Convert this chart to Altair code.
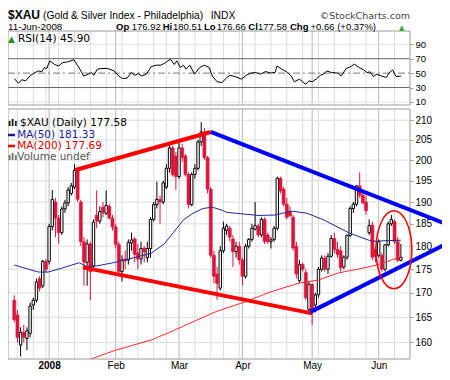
import altair as alt
import pandas as pd

# ---------------- data ----------------
first_idx = -11  # trading-day index, 0 = 2-Jan-2008
opens = [
    168.5, 165.5, 159.5, 162, 160.8, 161.8, 167.5, 168.5, 173, 171.5,
    176.7, 176.7, 184.4, 190, 186.3, 183, 188.4, 189.8, 192, 193.5,
    197.5, 190, 181, 176.5, 180.5, 175.7, 187, 185.6, 188.8, 187.4,
    189, 186.3, 184.3, 180.4, 174.5, 177.2, 177, 180.7, 181.6, 178.5,
    177.2, 179.6, 177.5, 179.5, 186, 189.4, 190.6, 190, 193.5, 198,
    203, 201, 196, 203, 201, 196.5, 189.4, 196.5, 198, 204.5,
    207, 200.6, 193, 178, 174, 171, 179, 183.5, 184, 181.6,
    178.8, 180, 177, 173.5, 180, 181.5, 183.8, 184.5, 182.5, 186,
    182.5, 181, 181.5, 184, 195.6, 193, 189.5, 187.8, 186.5, 180,
    172.6, 176, 174.3, 166.6, 171.8, 167.5, 169.6, 175, 177.4, 175,
    177.8, 181.7, 179.3, 179, 175.5, 177.6, 182.4, 188.5, 189.5, 193.8,
    191.6, 190, 183, 184.7, 179.3, 178, 178, 175, 180.3, 185,
    185.5, 181, 176.92]
highs = [
    169.5, 166.5, 163, 163.5, 163, 168, 169, 173, 173.5, 177,
    177.2, 185, 192.8, 191, 187, 189, 190.5, 193.5, 194.5, 199,
    198, 190.5, 182, 181.5, 181, 186, 192.7, 189, 190, 192.7,
    189.5, 187, 185, 181, 178, 179, 181.5, 183, 182, 180.5,
    181, 180, 181, 186.5, 190, 194.8, 191.5, 195, 199, 204,
    203.5, 202, 205, 204, 201.5, 197, 197, 199, 205, 209.5,
    208, 201, 193.5, 179, 175.5, 180, 185.5, 185, 184.5, 182.5,
    181, 181, 177.5, 180.5, 181.8, 185, 190, 185, 186.5, 186.5,
    183, 182, 184.5, 196, 196, 193.5, 191, 189, 187, 181,
    177, 176.5, 175, 172.5, 172, 170, 175.5, 178, 178, 178.5,
    182.5, 183, 181, 180, 178, 182.6, 189, 190, 194, 197,
    192.5, 191.5, 186, 185.5, 180, 181.5, 178.5, 180.5, 185.5, 187,
    186, 182, 180.51]
lows = [
    164, 160, 157.3, 160, 158.5, 161, 166.5, 168, 170.3, 171,
    174.3, 176, 183.5, 182, 180.5, 182.5, 187.5, 189, 191.5, 193,
    190, 180, 171.5, 171.5, 168.5, 175, 184, 185, 186.5, 187,
    186, 183.5, 179.5, 173.5, 172.4, 175, 176, 179, 176.5, 175,
    176, 176.5, 176.5, 177.5, 185.5, 188.5, 185, 189.5, 193, 197,
    196, 192.8, 195.5, 199.5, 196, 188.5, 189, 195.5, 197.5, 203.5,
    200, 192, 177.5, 172, 168.6, 170.5, 178.5, 182.5, 181, 175.5,
    177.5, 176, 171.6, 173, 179.5, 181, 183.5, 182, 182, 180.5,
    180.5, 179.5, 181, 183.5, 192, 189, 186, 186.5, 179, 173,
    172, 174.5, 168.5, 166, 163.5, 166, 169, 174.5, 174.5, 174,
    177.5, 178.5, 177.5, 174.5, 175, 177, 182, 187.5, 189, 191,
    189.5, 187, 182.5, 177, 176.5, 177.5, 174.5, 174.5, 180, 184.5,
    180.5, 176.5, 176.66]
closes = [
    164.5, 161, 162, 161, 162.3, 167.3, 168.5, 172.3, 171, 176.7,
    175, 184.4, 190.6, 186.3, 183, 188.4, 189.8, 192.8, 193.8, 197.5,
    190.6, 181, 176.5, 180.5, 174.5, 185.4, 185.6, 187.8, 187.5, 189.2,
    186.3, 184.3, 180.4, 174.5, 177, 176.8, 180.8, 181.4, 178.2, 177.2,
    179.5, 178.8, 179.5, 186, 189.4, 190.6, 190, 194.5, 198, 203,
    196.5, 196, 203, 200.6, 196.5, 189.4, 196.5, 198, 204.5, 207,
    200.6, 193, 178, 173.5, 172, 179, 184, 184.5, 182, 178.8,
    180, 177, 173.5, 180, 181.5, 184, 184.6, 182.5, 186, 181,
    181, 181.4, 184, 195.6, 192.6, 189.5, 186.5, 186.8, 179.6, 174,
    176, 175, 169, 171.8, 166.4, 169.6, 175, 177.4, 175, 177.8,
    181.7, 179.3, 178.2, 175.3, 177.6, 182.4, 188.5, 189.5, 193.8, 191.6,
    189.8, 188, 184.6, 177.6, 177.8, 181, 175, 180.3, 185, 186,
    181, 176.92, 177.58]
idx = list(range(first_idx, first_idx + len(closes)))

ma50_idx = [-11, -3.4, -0.3, 4.3, 9.5, 11.9, 14.9, 21, 28, 32.3, 36.3, 39.3, 42.4,
            45.4, 48.5, 51.5, 54.6, 56.1, 66.2, 71.3, 76.5, 81.4, 86.6, 94.8, 101.8, 111]
ma50_val = [175.9, 174.4, 174.4, 175.3, 176.4, 175.6, 175.7, 176.5, 177.7, 178.5, 180.5,
            183.1, 185.9, 187.4, 188.5, 188.8, 188.1, 187.6, 186.9, 187.0, 187.9, 187.4,
            185.9, 182.9, 181.1, 181.33]
ma200_idx = [8, 9.5, 21, 32.3, 38.4, 45.4, 52.4, 56.1, 61.6, 69.8, 79, 85, 91.2, 97.3, 103.4, 111]
ma200_val = [155.5, 156.0, 158.5, 160.5, 162.1, 164.1, 166.1, 166.9, 168.1, 170.2, 172.1,
             172.7, 174.2, 175.0, 175.9, 177.69]

rsi_idx = [-11, -9.7, -8.6, -7.4, -5.9, -4.4, -3.4, -2.3, -1.5, -0.8, 0.2, 1.7, 3.0, 4.3,
           5.8, 7.8, 9.4, 10.9, 12.4, 13.4, 14.1, 15.2, 17.0, 18.5, 20.5, 22.0, 23.1, 24.6,
           25.9, 27.1, 28.1, 29.2, 30.7, 32.2, 33.8, 35.3, 36.8, 38.3, 39.5, 40.3, 41.4,
           42.4, 43.2, 44.4, 45.9, 47.5, 49.0, 50.5, 51.5, 53.0, 54.6, 56.1, 57.1, 58.6,
           60.7, 62.2, 63.7, 65.2, 66.8, 68.3, 69.8, 71.3, 71.9, 73.4, 74.9, 76.4, 77.4,
           79.0, 80.0, 81.0, 82.0, 83.0, 84.5, 85.6, 86.6, 87.6, 89.1, 91.2, 92.2, 93.7,
           95.2, 96.3, 97.8, 99.3, 100.3, 101.3, 102.3, 103.4, 104.9, 106.4, 107.4, 108.4,
           109.5, 111]
rsi_val = [42.5, 36, 40.7, 39.3, 47, 50.8, 53, 52, 57.8, 56, 67, 62, 60, 64.7, 65.5, 68.5,
           57.8, 46, 48.5, 50.8, 47, 55.5, 56.5, 56.4, 53, 46, 42.5, 43, 50.8, 47, 49.5, 46,
           48.5, 59, 61, 61, 64.7, 69.4, 62, 67, 57.8, 61, 55.5, 61, 48.6, 57.8, 61, 57.8,
           46, 38, 37, 44, 47, 45.3, 41.7, 47, 50, 50.8, 48.6, 52.3, 50.2, 50.8, 60, 55.5,
           51.8, 46, 38, 41.7, 38, 34.7, 39.3, 38, 42.5, 47, 48.6, 53, 50.8, 50, 46, 56.4,
           59, 62.5, 57.8, 54.4, 50.8, 51.8, 45.3, 48.6, 46, 44, 50.8, 54.4, 45.3, 45.9]

# hand-drawn trend lines and ellipse (annotation points)
red_seg = ["top", "top", "bottom", "bottom"]
red_idx = [8.3, 51.0, 10.7, 83.0]
red_val = [197.6, 207.0, 175.4, 165.8]
blue_seg = ["top", "top", "bottom", "bottom"]
blue_idx = [51.0, 124.7, 82.5, 124.7]
blue_val = [207.0, 185.1, 166.1, 180.3]
ell_idx = [108.8]
ell_val = [179.2]

month_idx = [0, 21, 41, 61, 83, 104]
month_lbl = ["2008", "Feb", "Mar", "Apr", "May", "Jun"]
week_idx = [-10, -5, -1, 3, 8, 13, 18, 23, 28, 33, 37, 46, 51, 55, 60, 65, 70, 75, 80,
            85, 90, 95, 100, 109]
price_ticks = [160, 165, 170, 175, 180, 185, 190, 195, 200, 205, 210]
rsi_ticks = [10, 30, 50, 70, 90]

title_sym = "$XAU"
title_name = "(Gold & Silver Index - Philadelphia)"
title_exch = "INDX"
credit = "\u00a9StockCharts.com"
quote_date = "11-Jun-2008"
quote_lbl = ["Op", "Hi", "Lo", "Cl", "Chg"]
quote_val = ["176.92", "180.51", "176.66", "177.58", "+0.66 (+0.37%)"]
legend_main = ["$XAU (Daily) 177.58", "MA(50) 181.33", "MA(200) 177.69", "Volume undef"]
legend_rsi = "RSI(14) 45.90"

# ---------------- styling / layout ----------------
W, H = 402, 328
RSI_TOP, RSI_BOT = 0, 74
MAIN_TOP, MAIN_BOT = 78, 328
RED = "#dc143c"
FONT = "Liberation Sans"
LFONT = "DejaVu Sans"

xs = alt.Scale(domain=[-11.4, 112.3], nice=False, zero=False)
ys = alt.Scale(type="log", domain=[156.8, 212.9], range=[MAIN_BOT, MAIN_TOP], nice=False)
rs = alt.Scale(domain=[5.8, 108.4], range=[RSI_BOT, RSI_TOP], nice=False, zero=False)

lab_expr = " : ".join(f"datum.value == {i} ? '{t}'" for i, t in zip(month_idx, month_lbl)) + " : ''"
x_axis = alt.Axis(values=month_idx, labelExpr=lab_expr, title=None, grid=False, ticks=False,
                  domain=False, labelFont=FONT, labelFontSize=10, labelColor="#000",
                  labelPadding=1, labelOverlap=False, labelFlush=False,
                  labelFontWeight={"condition": {"test": f"datum.value == {month_idx[0]}",
                                                 "value": "bold"}, "value": "normal"})
X = alt.X("i:Q", scale=xs, axis=x_axis)

main_axis = alt.Axis(orient="right", values=price_ticks, title=None, grid=False, domain=False,
                     tickSize=3, tickColor="#999", labelFont=FONT, labelFontSize=10,
                     labelColor="#000", labelPadding=2, labelOverlap=False)
rsi_axis = alt.Axis(orient="right", values=rsi_ticks, title=None, grid=False, domain=False,
                    tickSize=3, tickColor="#999", labelFont=FONT, labelFontSize=9.5,
                    labelColor="#000", labelPadding=2, labelOverlap=False)


def YM(f):
    return alt.Y(f"{f}:Q", scale=ys, axis=main_axis)


def YR(f):
    return alt.Y(f"{f}:Q", scale=rs, axis=rsi_axis)


one = pd.DataFrame({"k": [0]})

# ---------------- main panel ----------------
ohlc = pd.DataFrame(dict(i=idx, o=opens, h=highs, l=lows, c=closes))
UP = "datum.c >= datum.o"
DN = "datum.c < datum.o"

week_df = pd.DataFrame({"i": week_idx})
month_df = pd.DataFrame({"i": month_idx})

vg_w_main = alt.Chart(week_df).mark_rule(color="#dddddd", strokeWidth=1).encode(
    x=X, y=alt.value(MAIN_TOP), y2=alt.value(MAIN_BOT))
vg_m_main = alt.Chart(month_df).mark_rule(color="#b8b8b8", strokeWidth=1).encode(
    x=X, y=alt.value(MAIN_TOP), y2=alt.value(MAIN_BOT))
hg_main = alt.Chart(pd.DataFrame({"v": price_ticks})).mark_rule(color="#dddddd", strokeWidth=1).encode(
    y=YM("v"), x=alt.value(0), x2=alt.value(W))

wick_up = alt.Chart(ohlc).transform_filter(UP).mark_rule(color="#000", strokeWidth=1).encode(
    x=X, y=YM("l"), y2="h:Q")
wick_dn = alt.Chart(ohlc).transform_filter(DN).mark_rule(color=RED, strokeWidth=1).encode(
    x=X, y=YM("l"), y2="h:Q")
body_up = alt.Chart(ohlc).transform_filter(UP).mark_bar(
    orient="vertical", size=2.4, fill="#ffffff", stroke="#000", strokeWidth=1).encode(
    x=X, y=YM("o"), y2="c:Q")
body_dn = alt.Chart(ohlc).transform_filter(DN).mark_bar(
    orient="vertical", size=3, fill=RED, stroke=RED, strokeWidth=0.6).encode(
    x=X, y=YM("o"), y2="c:Q")

ma50 = alt.Chart(pd.DataFrame(dict(i=ma50_idx, v=ma50_val))).mark_line(
    color="#26269a", strokeWidth=1, clip=True).encode(x=X, y=YM("v"))
ma200 = alt.Chart(pd.DataFrame(dict(i=ma200_idx, v=ma200_val))).mark_line(
    color="#ff2a2a", strokeWidth=1, clip=True).encode(x=X, y=YM("v"))

frame_main = alt.Chart(one).mark_rect(fillOpacity=0, stroke="#9a9a9a", strokeWidth=1).encode(
    x=alt.value(0), x2=alt.value(W), y=alt.value(MAIN_TOP), y2=alt.value(MAIN_BOT))

red_tr = alt.Chart(pd.DataFrame(dict(seg=red_seg, i=red_idx, v=red_val))).mark_line(
    color="#ff0000", strokeWidth=4).encode(x=X, y=YM("v"), detail="seg:N")
blue_tr = alt.Chart(pd.DataFrame(dict(seg=blue_seg, i=blue_idx, v=blue_val))).mark_line(
    color="#0000ff", strokeWidth=4).encode(x=X, y=YM("v"), detail="seg:N")

ELLIPSE = "M -0.46 0 A 0.46 1 0 1 1 0.46 0 A 0.46 1 0 1 1 -0.46 0 Z"
ell = alt.Chart(pd.DataFrame(dict(i=ell_idx, v=ell_val))).mark_point(
    shape=ELLIPSE, size=6084, filled=False, color="#ff0000", strokeWidth=1.5, opacity=1).encode(
    x=X, y=YM("v"))

main = alt.layer(vg_w_main, vg_m_main, hg_main, wick_up, wick_dn, body_up, body_dn,
                 ma50, ma200, frame_main, red_tr, blue_tr, ell)

# ---------------- RSI panel ----------------
vg_w_rsi = alt.Chart(week_df).mark_rule(color="#dddddd", strokeWidth=1).encode(
    x=X, y=alt.value(RSI_TOP), y2=alt.value(RSI_BOT))
vg_m_rsi = alt.Chart(month_df).mark_rule(color="#b8b8b8", strokeWidth=1).encode(
    x=X, y=alt.value(RSI_TOP), y2=alt.value(RSI_BOT))
hg_rsi = alt.Chart(pd.DataFrame({"v": [rsi_ticks[0], rsi_ticks[-1]]})).mark_rule(
    color="#e2e2e2", strokeWidth=1).encode(y=YR("v"), x=alt.value(0), x2=alt.value(W))
hg_rsi_dark = alt.Chart(pd.DataFrame({"v": [rsi_ticks[1], rsi_ticks[3]]})).mark_rule(
    color="#666666", strokeWidth=1).encode(y=YR("v"), x=alt.value(0), x2=alt.value(W))
hg_rsi_mid = alt.Chart(pd.DataFrame({"v": [rsi_ticks[2]]})).mark_rule(
    color="#777777", strokeWidth=1, strokeDash=[7, 3, 2, 3]).encode(
    y=YR("v"), x=alt.value(0), x2=alt.value(W))
rsi_line = alt.Chart(pd.DataFrame(dict(i=rsi_idx, v=rsi_val))).mark_line(
    color="#000", strokeWidth=1).encode(x=X, y=YR("v"))
frame_rsi = alt.Chart(one).mark_rect(fillOpacity=0, stroke="#9a9a9a", strokeWidth=1).encode(
    x=alt.value(0), x2=alt.value(W), y=alt.value(RSI_TOP), y2=alt.value(RSI_BOT))

rsi = alt.layer(vg_w_rsi, vg_m_rsi, hg_rsi, hg_rsi_dark, hg_rsi_mid, rsi_line, frame_rsi)


# ---------------- texts ----------------
def txt(s, x, y, size=10.5, weight="normal", color="#000", font=FONT, align="left",
        baseline="alphabetic"):
    return alt.Chart(pd.DataFrame({"t": [s]})).mark_text(
        align=align, baseline=baseline, fontSize=size, fontWeight=weight, color=color,
        font=font).encode(x=alt.value(x), y=alt.value(y), text="t:N")


def dash(x1, x2, y, color, w=2.5):
    return alt.Chart(one).mark_rule(color=color, strokeWidth=w).encode(
        x=alt.value(x1), x2=alt.value(x2), y=alt.value(y))


LINE1, LINE2 = -12.1, -1
texts = [
    txt(title_sym, 0, LINE1, size=12, weight="bold"),
    txt(title_name, 35, LINE1, size=10.3),
    txt(title_exch, 202.7, LINE1, size=10.3),
    txt(credit, 402, LINE1, size=9.5, color="#444", font=LFONT, align="right"),
    txt(quote_date, 0, LINE2, size=9.8),
]
q_lbl_x = [108, 154.7, 196, 240.3, 282]
q_val_x = [123.7, 165, 208.7, 250, 302.5]
for lb, vl, lx, vx in zip(quote_lbl, quote_val, q_lbl_x, q_val_x):
    texts.append(txt(lb, lx, LINE2, size=9.5, weight="bold"))
    texts.append(txt(vl, vx, LINE2, size=9.5))
texts.append(txt("\u25b2", 391, LINE2 - 0.5, size=7, color="#22aa22", font=LFONT))

# RSI legend
texts.append(txt("\u25b2", 0, 7.5, size=9, color="#2e8b2e", font=LFONT, baseline="middle"))
texts.append(txt(legend_rsi, 10, 7.5, size=10.5, font=LFONT, baseline="middle"))

# main legend
leg_y = [92.3, 104, 115, 126]
leg_col = ["#000", "#1a1a99", "#e00000", "#555"]
texts.append(txt("\u0131l\u0131", 0, leg_y[0], size=9, weight="bold", font=LFONT, baseline="middle"))
texts.append(txt(legend_main[0], 12, leg_y[0], size=10.5, color=leg_col[0], font=LFONT, baseline="middle"))
texts.append(dash(0, 7, leg_y[1], "#1a1a99"))
texts.append(txt(legend_main[1], 9.3, leg_y[1], size=10.5, color=leg_col[1], font=LFONT, baseline="middle"))
texts.append(dash(0, 7, leg_y[2], "#ff0000"))
texts.append(txt(legend_main[2], 9.3, leg_y[2], size=10.5, color=leg_col[2], font=LFONT, baseline="middle"))
texts.append(txt("\u0131l\u0131", 0, leg_y[3], size=9, weight="bold", color="#666", font=LFONT, baseline="middle"))
texts.append(txt(legend_main[3], 9.3, leg_y[3], size=10.5, color=leg_col[3], font=LFONT, baseline="middle"))

chart = alt.layer(rsi, main, *texts).resolve_scale(y="independent").properties(
    width=W, height=H,
    padding={"left": 0, "top": 23, "right": 32, "bottom": 13},
    autosize=alt.AutoSizeParams(type="none"),
).configure_view(strokeWidth=0)

chart.save("out.html", embed_options={"renderer": "svg", "actions": False})
